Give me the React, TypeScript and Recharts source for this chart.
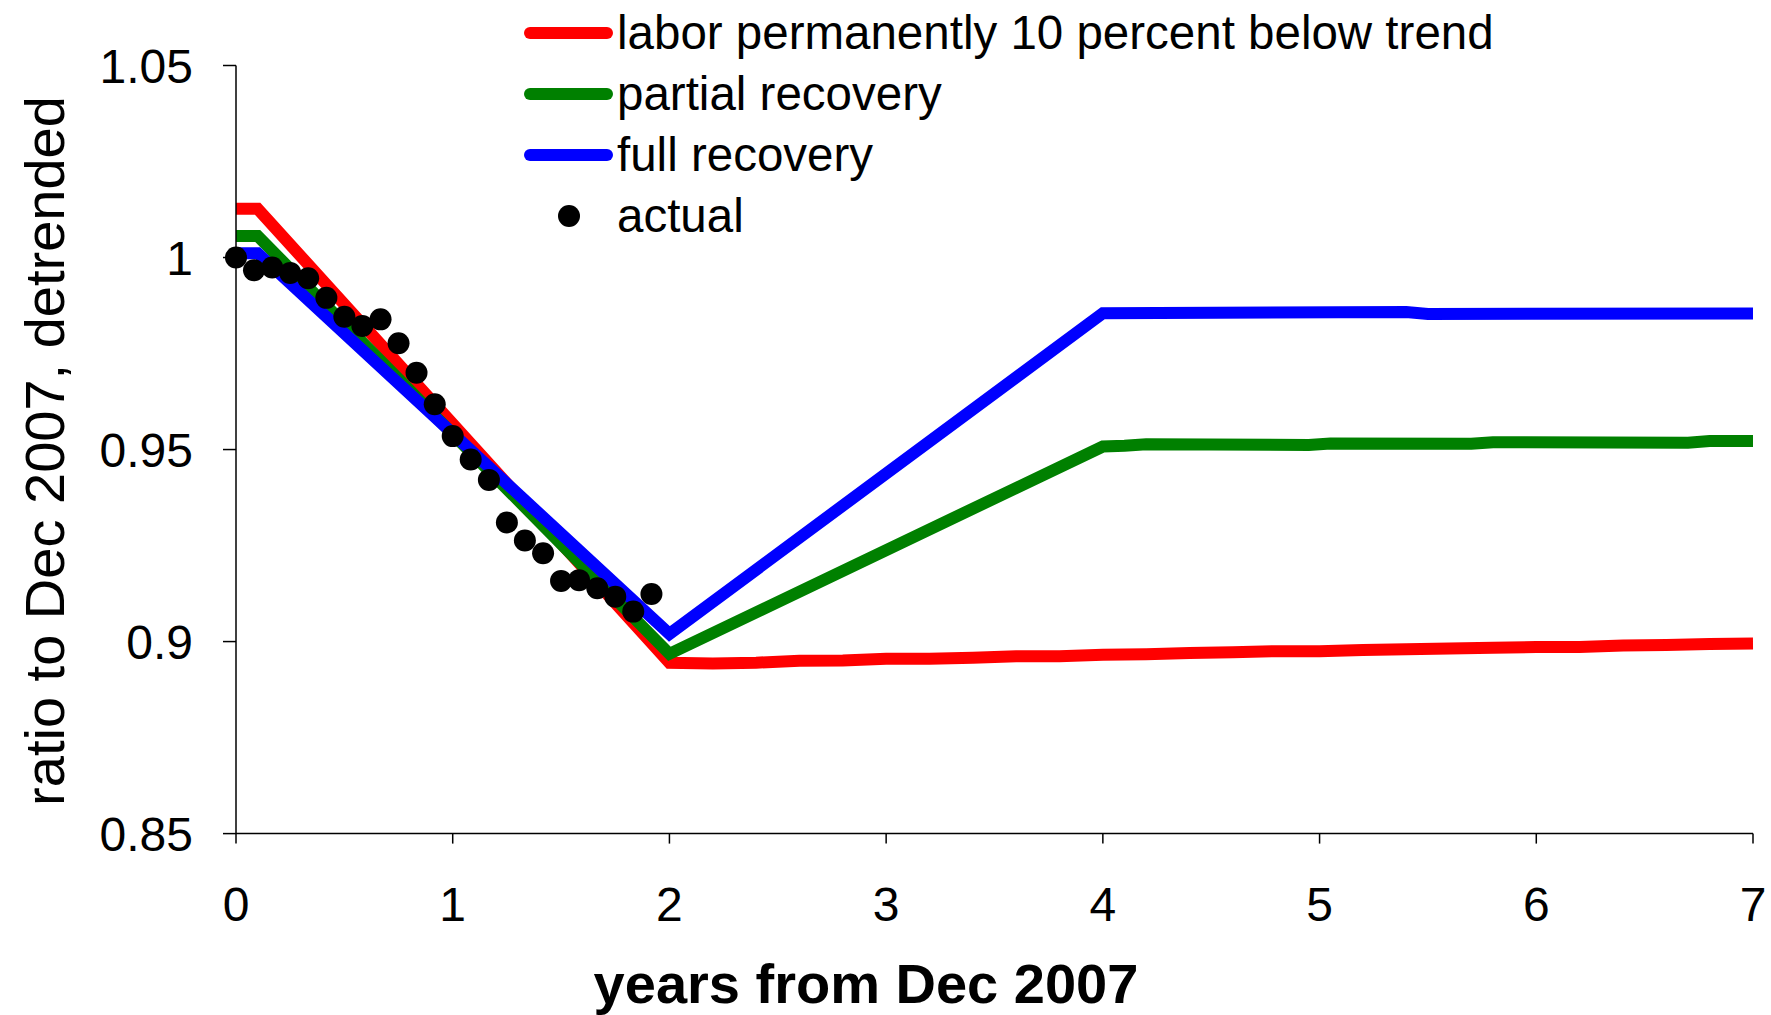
import { ComposedChart, Line, Scatter, XAxis, YAxis, Legend } from 'recharts';

const FONT = '"Liberation Sans", Arial, Helvetica, sans-serif';

const yearTicks = [0, 1, 2, 3, 4, 5, 6, 7];
const ratioTicks = [0.85, 0.9, 0.95, 1, 1.05];

// labor permanently 10 percent below trend
const permanentYears = [0, 0.1, 2, 2.2, 2.4, 2.6, 2.8, 3, 3.2, 3.4, 3.6, 3.8, 4, 4.2, 4.4, 4.6, 4.8, 5, 5.2, 5.4, 5.6, 5.8, 6, 6.2, 6.4, 6.6, 6.8, 7];
const permanentRatio = [1.0127, 1.0127, 0.8945, 0.8943, 0.8945, 0.895, 0.8951, 0.8955, 0.8955, 0.8958, 0.8962, 0.8962, 0.8966, 0.8967, 0.897, 0.8972, 0.8975, 0.8975, 0.8978, 0.898, 0.8982, 0.8984, 0.8986, 0.8986, 0.899, 0.8991, 0.8994, 0.8995];

// partial recovery
const partialYears = [0, 0.1, 2, 4, 4.1, 4.2, 4.95, 5.05, 5.7, 5.8, 6.7, 6.8, 7];
const partialRatio = [1.0056, 1.0056, 0.8968, 0.9508, 0.951, 0.9514, 0.9512, 0.9516, 0.9515, 0.9519, 0.9518, 0.9522, 0.9522];

// full recovery
const fullYears = [0, 0.1, 2, 4, 5.4, 5.5, 7];
const fullRatio = [1.0011, 1.0011, 0.902, 0.9855, 0.9858, 0.9853, 0.9854];

// actual, monthly
const actualYears = [0, 0.083, 0.167, 0.25, 0.333, 0.417, 0.5, 0.583, 0.667, 0.75, 0.833, 0.917, 1, 1.083, 1.167, 1.25, 1.333, 1.417, 1.5, 1.583, 1.667, 1.75, 1.833, 1.917];
const actualRatio = [1, 0.9967, 0.9974, 0.996, 0.9946, 0.9895, 0.9846, 0.9822, 0.9839, 0.9777, 0.97, 0.9618, 0.9535, 0.9474, 0.9421, 0.931, 0.9263, 0.923, 0.9158, 0.916, 0.9139, 0.9117, 0.9078, 0.9124];

const seriesNames = ['labor permanently 10 percent below trend', 'partial recovery', 'full recovery', 'actual'];
const seriesColors = ['#ff0000', '#008000', '#0000ff', '#000000'];

const toPoints = (xs: number[], ys: number[]) => xs.map((x, i) => ({ x, y: ys[i] }));

const lines = [
  toPoints(permanentYears, permanentRatio),
  toPoints(partialYears, partialRatio),
  toPoints(fullYears, fullRatio),
];
const actual = toPoints(actualYears, actualRatio);

const LegendBox = () => (
  <div style={{ fontFamily: FONT, fontSize: 47.5, color: '#000' }}>
    {seriesNames.map((name, i) => (
      <div key={name} style={{ display: 'flex', alignItems: 'center', height: 61, whiteSpace: 'nowrap' }}>
        <div style={{ width: 89, display: 'flex', justifyContent: 'center' }}>
          {i < 3 ? (
            <div style={{ width: 89, height: 12, borderRadius: 6, background: seriesColors[i] }} />
          ) : (
            <div style={{ width: 22, height: 22, borderRadius: 11, background: seriesColors[i] }} />
          )}
        </div>
        <span style={{ marginLeft: 4, lineHeight: '61px' }}>{name}</span>
      </div>
    ))}
  </div>
);

const YTitle = () => (
  <text x={64} y={451} transform="rotate(-90 64 451)" textAnchor="middle" fontFamily={FONT} fontSize={56} fill="#000">
    ratio to Dec 2007, detrended
  </text>
);

const XTitle = () => (
  <text x={866} y={1003} textAnchor="middle" fontFamily={FONT} fontSize={56} fontWeight="bold" fill="#000">
    years from Dec 2007
  </text>
);

const Dot = (props: any) => <circle cx={props.cx} cy={props.cy} r={11} fill="#000" />;

export default function App() {
  return (
    <div style={{ position: 'absolute', left: 0, top: 0 }}>
      <ComposedChart width={1771} height={1015} margin={{ top: 65.5, right: 18, bottom: 0, left: 0 }}>
        <XAxis
          type="number"
          dataKey="x"
          domain={[0, 7]}
          ticks={yearTicks}
          height={181.4}
          stroke="#000"
          strokeWidth={1.5}
          tickSize={10}
          tickMargin={43}
          tick={{ fill: '#000', fontSize: 48, fontFamily: FONT }}
          allowDuplicatedCategory={false}
          label={<XTitle />}
        />
        <YAxis
          type="number"
          domain={[0.85, 1.05]}
          ticks={ratioTicks}
          width={236}
          stroke="#000"
          strokeWidth={1.5}
          tickSize={13}
          tickMargin={30}
          tick={{ fill: '#000', fontSize: 48, fontFamily: FONT }}
          label={<YTitle />}
        />
        <Legend
          layout="horizontal"
          verticalAlign="middle"
          align="center"
          wrapperStyle={{ left: 524, top: 2, width: 'auto', height: 'auto' }}
          content={<LegendBox />}
        />
        {lines.map((pts, i) => (
          <Line
            key={seriesNames[i]}
            data={pts}
            dataKey="y"
            name={seriesNames[i]}
            type="linear"
            stroke={seriesColors[i]}
            strokeWidth={12}
            dot={false}
            activeDot={false}
            isAnimationActive={false}
          />
        ))}
        <Scatter data={actual} dataKey="y" name="actual" fill="#000" shape={<Dot />} isAnimationActive={false} />
      </ComposedChart>
    </div>
  );
}
